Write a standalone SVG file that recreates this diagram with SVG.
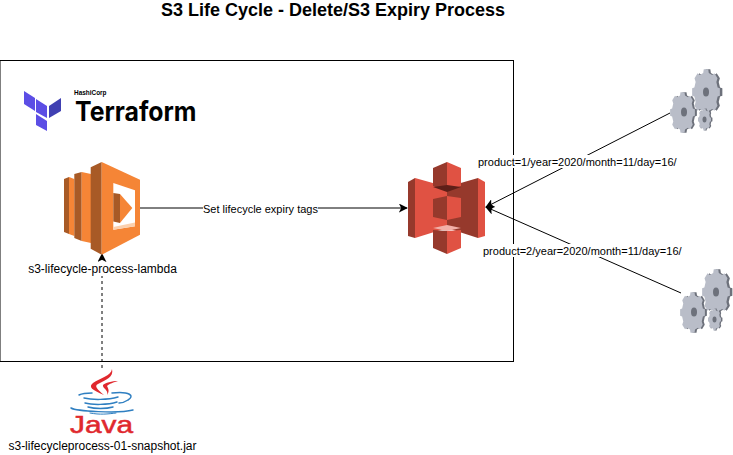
<svg xmlns="http://www.w3.org/2000/svg" xmlns:xlink="http://www.w3.org/1999/xlink" width="733" height="455" viewBox="0 0 733 455">
<style>
text{font-family:"Liberation Sans",Arial,sans-serif;fill:#000}
.lbl{font-size:11px}
.cap{font-size:12px;text-anchor:middle}
.line{fill:none;stroke:#000;stroke-width:1}
.lab-bg{fill:#fff}
.gf{fill:#b9bdc8}.gd{fill:#6d717b}
.java{fill:none;stroke:#2f7fc1;stroke-linecap:round}
.steam{fill:#e0282e}
.hl{fill:#a85a26}.ol{fill:#f58536}
.sd{fill:#96392c}.sl{fill:#e05243}
</style>
<defs>
<marker id="arr" viewBox="0 0 10 10" refX="9" refY="5" markerWidth="9" markerHeight="9" orient="auto" markerUnits="userSpaceOnUse"><path d="M0 0L10 5L0 10L2.5 5Z" fill="#000"/></marker>
<polygon id="cog" points=".83,-.2 .990,-.16 .990,.16 .83,.2 .74,.44 .82,.6 .6,.82 .44,.74 .2,.83 .16,.990 -.16,.990 -.2,.83 -.44,.74 -.6,.82 -.82,.6 -.74,.44 -.83,.2 -.990,.16 -.990,-.16 -.83,-.2 -.74,-.44 -.82,-.6 -.6,-.82 -.44,-.74 -.2,-.83 -.16,-.990 .16,-.990 .2,-.83 .44,-.74 .6,-.82 .82,-.6 .74,-.44"/>
<g id="gears">
<use xlink:href="#cog" href="#cog" class="gd" transform="translate(708,92) scale(14.5,23)"/>
<use xlink:href="#cog" href="#cog" class="gf" transform="translate(706,92) scale(14,23)"/>
<ellipse class="gd" cx="706" cy="92" rx="3" ry="4.5"/>
<use xlink:href="#cog" href="#cog" class="gd" transform="translate(684.5,112.5) scale(12.5,20.5)"/>
<use xlink:href="#cog" href="#cog" class="gf" transform="translate(682.5,112.5) scale(12.5,20.5)"/>
<ellipse class="gd" cx="684" cy="112" rx="3" ry="4.5"/>
<use xlink:href="#cog" href="#cog" class="gd" transform="translate(705.5,119.5) scale(7,11)"/>
<use xlink:href="#cog" href="#cog" class="gf" transform="translate(704.5,119.5) scale(6.5,11)"/>
<ellipse class="gd" cx="704.5" cy="119.5" rx="2" ry="3"/>
</g>
</defs>
<rect width="733" height="455" fill="#fff"/>
<text id="title" x="333" y="16" font-weight="700" text-anchor="middle" style="font-size:18px">S3 Life Cycle - Delete/S3 Expiry Process</text>
<rect id="boundary" x="0" y="60.5" width="513.5" height="301" fill="none" stroke="#000" stroke-width="1"/>
<g id="terraform">
<polygon fill="#5c4ee5" points="24,91 35,98 35,111 24,104"/>
<polygon fill="#5c4ee5" points="36,99 47,106 47,118 36,112"/>
<polygon fill="#5c4ee5" points="36,114 47,121 47,131 36,125"/>
<polygon fill="#4040b2" points="49,106 61,98 61,111 49,118"/>
<text x="74" y="95" font-size="7" font-weight="700" textLength="32.5" lengthAdjust="spacingAndGlyphs" fill="#222">HashiCorp</text>
<text x="75" y="121" font-size="27" font-weight="700" textLength="121.5" lengthAdjust="spacingAndGlyphs" style="font-family:Inter,'Liberation Sans',sans-serif">Terraform</text>
</g>
<g id="connectors">
<path class="line" d="M140 208H407" marker-end="url(#arr)"/>
<path class="line" d="M670 113L486 207" marker-end="url(#arr)"/>
<path class="line" d="M681 293L486 207" marker-end="url(#arr)"/>
<path class="line" stroke-dasharray="3 3" d="M102 368V254" marker-end="url(#arr)"/>
</g>
<g id="lambda">
<polygon class="hl" points="64,179 69,177 69,234 64,232"/>
<polygon class="ol" points="69,177 74.3,179 74.3,236 69,234"/>
<polygon class="hl" points="74.3,174 81.7,172 81.7,241 74.3,238"/>
<polygon class="ol" points="81.7,172 91,174 91,243 81.7,241"/>
<polygon class="hl" points="90.7,167.3 101.7,162 101.7,254.7 90.7,248.7"/>
<polygon class="ol" points="101.7,162 140,179.7 140,234.7 101.7,254.7"/>
<polygon fill="#fff" points="113.3,183 135,190.3 135,226.3 113.3,229.7"/>
<polygon fill="#fbd0ae" points="113.3,227 135,222.5 135,226.3 113.3,229.7"/>
<polygon class="hl" points="113.3,193 120,194 120,223 113.3,221.5"/>
<polygon class="ol" points="120,194 132.3,208 120,223"/>
</g>
<g id="s3">
<polygon class="sd" points="408,182 415,178 415,238 408,236"/>
<polygon class="sl" points="415,178 447,187 447,228 415,238"/>
<polygon class="sl" points="478,178 485,182 485,236 478,238"/>
<polygon class="sd" points="478,178 447,187 447,228 478,238"/>
<polygon class="sd" points="433,168 447,162 447,191 433,186"/>
<polygon class="sl" points="447,162 461,168 461,186 447,191"/>
<polygon fill="#5e1f18" points="433,187 447,185 461,187 447,192"/>
<polygon class="sd" points="433,199 447,196 447,220 433,217"/>
<polygon class="sl" points="447,196 461,198 461,217 447,220"/>
<polygon fill="#f2b0a8" points="433,228 447,225 461,228 447,231"/>
<polygon class="sd" points="433,230 447,231 447,254 433,248"/>
<polygon class="sl" points="447,231 461,230 461,248 447,254"/>
</g>
<g id="gears-top"><use xlink:href="#gears" href="#gears"/></g>
<g id="gears-bottom"><use xlink:href="#gears" href="#gears" transform="translate(10,200)"/></g>
<g id="java">
<path class="steam" d="M112 369C111 376 100 378 93 383C88 387 92 390 104 395C97 389 94 386 98 384C106 380 114 377 112 369Z"/>
<path class="steam" d="M118 381C112 381 105 383 103 385C102 388 109 390 107 395C110 391 108 388 107 386C109 384 114 382 118 381Z"/>
<path class="java" stroke-width="1.5" d="M79 395C83 393 88 393 92 393M112 393C130 391 135 396 128 400C125 402 122 403 119 403"/>
<path class="java" stroke-width="1.5" d="M84 398C92 400 108 400 118 397M85 403C92 405 108 405 117 402"/>
<path class="java" stroke-width="1.5" d="M88 407C95 409 106 409 113 407"/>
<path class="java" stroke-width="1.5" d="M71 408C76 411 118 414 133 410"/>
<path class="java" stroke-width="1" d="M90 413C100 415 108 414 116 413"/>
<text x="70" y="433" font-size="23" textLength="63" lengthAdjust="spacingAndGlyphs" style="fill:#e0282e;stroke:#e0282e;stroke-width:.5">Java</text>
</g>
<g id="labels">
<rect class="lab-bg" x="203" y="202" width="115" height="13"/>
<text class="lbl" x="203" y="212.5">Set lifecycle expiry tags</text>
<rect class="lab-bg" x="478" y="155" width="200" height="13"/>
<text class="lbl" x="478" y="165.5">product=1/year=2020/month=11/day=16/</text>
<rect class="lab-bg" x="483" y="244" width="199" height="13"/>
<text class="lbl" x="483" y="254.5">product=2/year=2020/month=11/day=16/</text>
<rect class="lab-bg" x="28" y="262" width="149" height="14"/>
<text class="cap" x="102.5" y="272.5">s3-lifecycle-process-lambda</text>
<text class="cap" x="102.5" y="450">s3-lifecycleprocess-01-snapshot.jar</text>
</g>
</svg>
